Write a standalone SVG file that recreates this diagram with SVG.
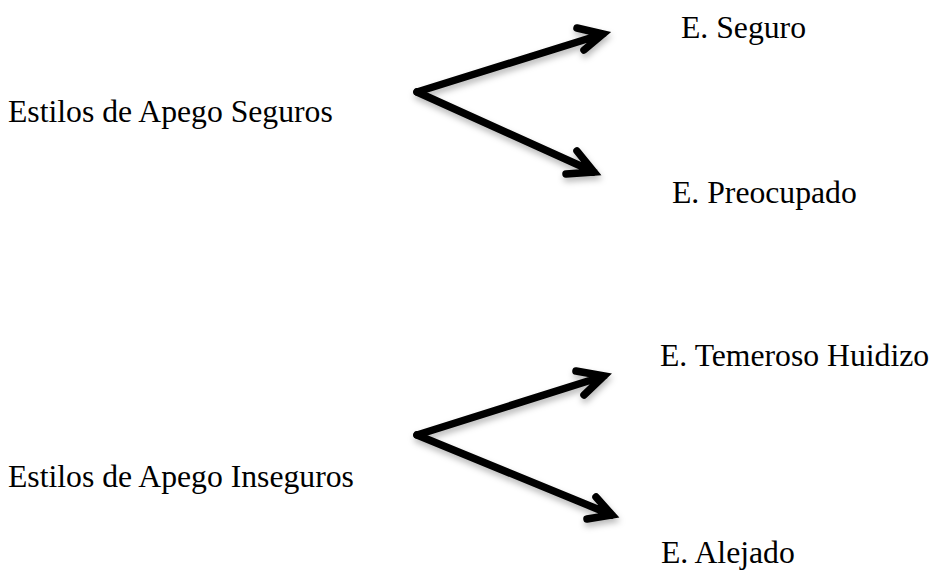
<svg xmlns="http://www.w3.org/2000/svg" width="935" height="573" viewBox="0 0 935 573">
<style>
text{font-family:"Liberation Serif","Times New Roman",serif;font-size:31.7px;fill:#000}
.arr{fill:none;stroke:#000;stroke-width:7.5;stroke-linecap:round;stroke-linejoin:miter;stroke-miterlimit:10}
</style>
<defs>
<filter id="sh" x="-20%" y="-20%" width="140%" height="150%">
<feDropShadow dx="1" dy="4" stdDeviation="3" flood-color="#000" flood-opacity="0.28"/>
</filter>
</defs>
<g id="n-seguros"><text x="8" y="122">Estilos de Apego Seguros</text></g>
<g id="n-seguro"><text x="681" y="38">E. Seguro</text></g>
<g id="n-preocupado"><text x="672" y="203">E. Preocupado</text></g>
<g id="n-inseguros"><text x="8" y="487">Estilos de Apego Inseguros</text></g>
<g id="n-temeroso"><text x="660" y="366">E. Temeroso Huidizo</text></g>
<g id="n-alejado"><text x="661" y="563">E. Alejado</text></g>
<g id="connectors" filter="url(#sh)">
<path class="arr" d="M417 92 L603 34 M577 28 L603 34 L584 50"/>
<path class="arr" d="M417 92 L594 172 M577 151 L594 172 L566 174"/>
<path class="arr" d="M417 435 L604 376 M576 371 L604 376 L584 395"/>
<path class="arr" d="M417 435 L612 515 M596 497 L612 515 L587 519"/>
</g>
</svg>
